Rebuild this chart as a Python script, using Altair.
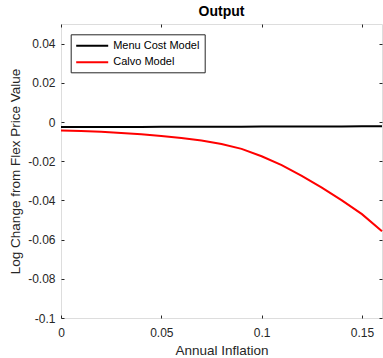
import altair as alt
import pandas as pd

inflation = [0.00, 0.01, 0.02, 0.03, 0.04, 0.05, 0.06, 0.07, 0.08,
             0.09, 0.10, 0.11, 0.12, 0.13, 0.14, 0.15, 0.16]
menu_cost = [-0.0025, -0.0025, -0.0025, -0.0025, -0.0025, -0.0024, -0.0024,
             -0.0024, -0.0024, -0.0024, -0.0023, -0.0023, -0.0023, -0.0023,
             -0.0023, -0.0022, -0.0022]
calvo = [-0.0043, -0.0046, -0.0050, -0.0056, -0.0063, -0.0072, -0.0082,
         -0.0094, -0.0112, -0.0137, -0.0175, -0.0220, -0.0275, -0.0335,
         -0.0400, -0.0470, -0.0557]
models = ["Menu Cost Model", "Calvo Model"]
colors = ["#000000", "#ff0000"]
x_ticks = [0, 0.05, 0.1, 0.15]
y_ticks = [-0.1, -0.08, -0.06, -0.04, -0.02, 0, 0.02, 0.04]

n = len(inflation)
df = pd.DataFrame({
    "inflation": inflation * 2,
    "value": menu_cost + calvo,
    "model": [models[0]] * n + [models[1]] * n,
})

W, H = 321, 294
FONT = "Liberation Sans"
GREY = "#262626"
xs = alt.Scale(domain=[0, 0.16], nice=False, zero=False)
ys = alt.Scale(domain=[-0.1, 0.05], nice=False, zero=False)
lab = "'' + datum.value"

main = alt.Chart(df).mark_line(strokeWidth=2).encode(
    x=alt.X("inflation:Q", scale=xs, axis=alt.Axis(
        orient="bottom", values=x_ticks, ticks=False, domain=False, grid=False,
        labelFlush=False, labelExpr=lab, labelFontSize=12, labelColor=GREY,
        labelFont=FONT, labelPadding=9, title="Annual Inflation",
        titleFontSize=13.5, titleFontWeight="normal", titleColor=GREY,
        titleFont=FONT, titlePadding=5)),
    y=alt.Y("value:Q", scale=ys, axis=alt.Axis(
        orient="left", values=y_ticks, ticks=False, domain=False, grid=False,
        labelFlush=False, labelExpr=lab, labelFontSize=12, labelColor=GREY,
        labelFont=FONT, labelPadding=6, title="Log Change from Flex Price Value",
        titleFontSize=13.5, titleFontWeight="normal", titleColor=GREY,
        titleFont=FONT, titlePadding=5)),
    color=alt.Color("model:N", sort=models,
                    scale=alt.Scale(domain=models, range=colors),
                    legend=alt.Legend(
                        title=None, orient="none", legendX=9.7, legendY=10.3,
                        strokeColor=GREY, fillColor="white", padding=4.5,
                        symbolType="M-1,0H4.333", symbolSize=144,
                        symbolStrokeWidth=2, labelFontSize=11, labelFont=FONT,
                        labelColor="#000000", labelOffset=24, rowPadding=4.5)),
)


def tick_axis(orient, vals, offset):
    return alt.Axis(orient=orient, values=vals, labels=False, domain=False,
                    grid=False, tickSize=3, tickColor=GREY, offset=offset, title=None)


inner1 = alt.Chart(df).mark_line(opacity=0).encode(
    x=alt.X("inflation:Q", scale=xs, axis=tick_axis("top", x_ticks, -H)),
    y=alt.Y("value:Q", scale=ys, axis=tick_axis("right", y_ticks, -W)),
    detail="model:N",
)
inner2 = alt.Chart(df).mark_line(opacity=0).encode(
    x=alt.X("inflation:Q", scale=xs, axis=tick_axis("bottom", x_ticks, -H)),
    y=alt.Y("value:Q", scale=ys, axis=tick_axis("left", y_ticks, -W)),
    detail="model:N",
)

chart = alt.layer(main, inner1, inner2).resolve_axis(
    x="independent", y="independent"
).properties(
    width=W, height=H,
    autosize=alt.AutoSizeParams(type="none"),
    padding={"left": 61, "top": 24, "right": 1, "bottom": 40},
    title=alt.TitleParams("Output", fontSize=14, fontWeight="bold", font=FONT,
                          color="#000000", offset=5, anchor="middle"),
).configure_view(stroke=GREY, strokeWidth=1).configure(background="white")

chart.save("out.html", embed_options={"renderer": "svg", "actions": False})
